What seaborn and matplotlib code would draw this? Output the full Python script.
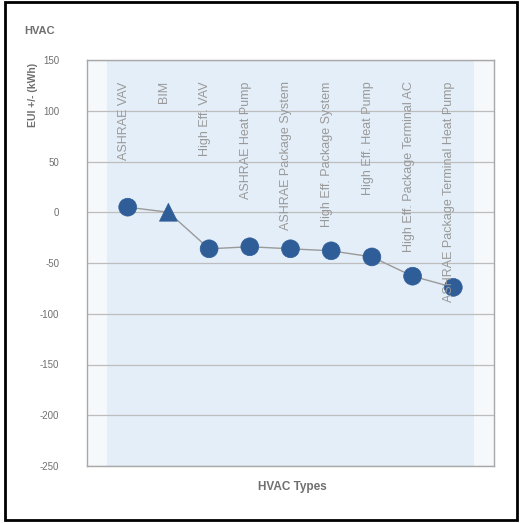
import matplotlib
matplotlib.use("Agg")
import matplotlib.pyplot as plt
import matplotlib.transforms as mtransforms
from matplotlib.patches import Rectangle
import seaborn as sns
import pandas as pd

categories = ["ASHRAE VAV", "BIM", "High Eff. VAV", "ASHRAE Heat Pump",
              "ASHRAE Package System", "High Eff. Package System",
              "High Eff. Heat Pump", "High Eff. Package Terminal AC",
              "ASHRAE Package Terminal Heat Pump"]
values = [5, 0, -36, -34, -36, -38, -44, -63, -74]
kinds = ["Alt", "BIM", "Alt", "Alt", "Alt", "Alt", "Alt", "Alt", "Alt"]
yticks = [150, 100, 50, 0, -50, -100, -150, -200, -250]

df = pd.DataFrame({"pos": range(len(categories)), "cat": categories,
                   "val": values, "kind": kinds})

sns.set_theme(style="white")
plt.rcParams["font.family"] = ["Liberation Sans", "DejaVu Sans"]

fig = plt.figure(figsize=(5.2, 5.23), dpi=100)
W, H = 520, 523
ax = fig.add_axes([87 / W, 1 - 466 / H, (494 - 87) / W, (466 - 60) / H])

gray_txt = "#6f6f6f"
blue = "#2f5d98"

ax.set_facecolor("#f5f9fc")
ax.axvspan(-0.5, len(categories) - 0.5, color="#e4eef8", zorder=0, lw=0)
for y in yticks:
    ax.axhline(y, color="#bdbdbd", lw=0.9, zorder=1)

sns.lineplot(data=df, x="pos", y="val", ax=ax, color="#9a9a9a", lw=1.0,
             zorder=2, legend=False)
sns.scatterplot(data=df, x="pos", y="val", style="kind",
                markers={"Alt": "o", "BIM": "^"}, s=165, color=blue,
                edgecolor=blue, linewidth=0.5, ax=ax, zorder=3, legend=False)

offset = mtransforms.offset_copy(ax.transData, fig=fig, x=-4, y=0, units="dots")
for i, c in enumerate(categories):
    ax.text(i, 129, c, rotation=90, ha="center", va="top", fontsize=9,
            color="#999999", transform=offset, zorder=4)

ax.set_xlim(-1, len(categories))
ax.set_ylim(-250, 150)
ax.set_yticks(yticks)
ax.set_yticklabels([str(v) for v in yticks], fontsize=7, color=gray_txt)
ax.set_xticks([])
ax.tick_params(axis="y", length=0, pad=20)
ax.set_xlabel("")
ax.set_ylabel("")
for s in ax.spines.values():
    s.set_visible(True)
    s.set_color("#a8a8a8")
    s.set_linewidth(1.0)

fig.text(24 / W, 1 - 31 / H, "HVAC", fontsize=8, fontweight="bold",
         color=gray_txt, va="center", ha="left")
fig.text(33 / W, 1 - 95 / H, "EUI +/- (kWh)", fontsize=7.5, fontweight="bold",
         color=gray_txt, rotation=90, va="center", ha="center")
fig.text(292 / W, 1 - 487 / H, "HVAC Types", fontsize=8.5, fontweight="bold",
         color=gray_txt, va="center", ha="center")

fig.patches.append(Rectangle((5 / W, 1 - 520 / H), (517 - 5) / W, (520 - 2) / H,
                             transform=fig.transFigure, fill=False,
                             edgecolor="black", lw=2))

fig.savefig("out.png", dpi=100)
